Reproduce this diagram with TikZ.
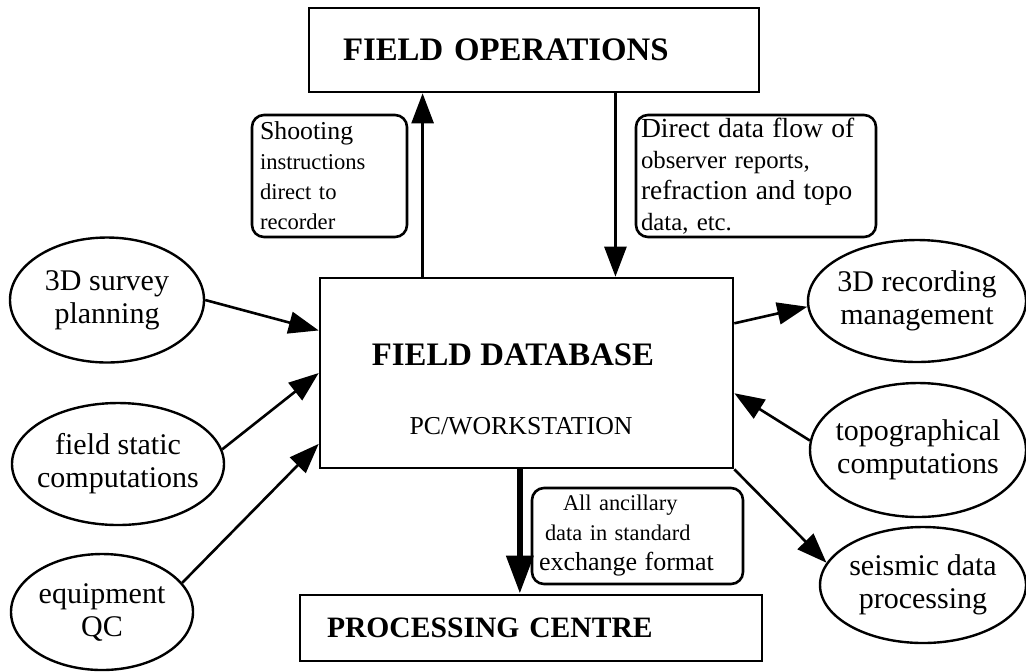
\documentclass[tikz,border=0pt]{standalone}
\usepackage{fontspec}
\setmainfont{Liberation Serif}
\usetikzlibrary{arrows.meta,shapes.geometric}

\begin{document}
\begin{tikzpicture}[x=0.5pt,y=-0.5pt,
  box/.style={draw, line width=1.3pt, inner sep=0pt},
  note/.style={draw, line width=1.3pt, rounded corners=6pt, align=left, inner ysep=0pt},
  ell/.style={draw, ellipse, line width=1.2pt, inner sep=0pt},
  elltext/.style={align=center, font=\fontsize{15}{16.5}\selectfont},
  title/.style={font=\fontsize{16.4}{18}\selectfont\bfseries},
  arr/.style={line width=1.3pt, -{Triangle[length=15pt,width=11pt]}},
  bigarr/.style={line width=3.3pt, -{Triangle[length=19pt,width=13pt]}}]
\useasboundingbox (0,0) rectangle (1026,671);

% main boxes
\node[box, title, minimum height=42pt, text width=191pt, inner xsep=17pt, align=left] (fo) at (534,50) {FIELD OPERATIONS};
\node[box, minimum width=206.5pt, minimum height=95pt] (db) at (526.5,373) {};
\node[title, anchor=base] (dbname) at (513,365) {FIELD DATABASE};
\node[anchor=base, font=\fontsize{12.9}{15}\selectfont] (dbsub) at (521,434) {PC/WORKSTATION};
\node[box, minimum height=33pt, text width=204pt, inner xsep=13.5pt, align=left, font=\fontsize{14.8}{16}\selectfont\bfseries] (pc) at (531,628) {PROCESSING CENTRE};

% notes
\node[note, text width=69.5pt, inner xsep=4pt, minimum height=61pt, font=\fontsize{11.3}{15}\selectfont] (shoot) at (329.5,176)
  {{\fontsize{12.9}{15}\selectfont Shooting}\\instructions\\direct to\\recorder};
\node[note, text width=115pt, inner xsep=2.5pt, minimum height=61pt, font=\fontsize{12.4}{15.5}\selectfont] (flow) at (756,176)
  {{\fontsize{13.8}{15.5}\selectfont Direct data flow of}\\observer reports,\\{\fontsize{13.7}{15.5}\selectfont refraction and topo}\\ data, etc.};
\node[note, text width=98.5pt, inner xsep=3.5pt, minimum height=48pt, font=\fontsize{11.2}{15}\selectfont] (anc) at (637.5,536)
  {\hspace*{12pt}All ancillary\\\hspace*{3pt}data in standard\\{\fontsize{13}{15}\selectfont exchange format}};

% ellipses
\node[ell, minimum width=97pt, minimum height=62.5pt, label={[elltext]center:3D survey\\planning}] (sp) at (107,300) {};
\node[ell, minimum width=106pt, minimum height=61pt, label={[elltext]center:field static\\computations}] (fs) at (118,464) {};
\node[ell, minimum width=91pt, minimum height=58pt, label={[elltext]center:equipment\\QC}] (eq) at (102,612) {};
\node[ell, minimum width=109pt, minimum height=61pt, label={[elltext]center:3D recording\\management}] (rm) at (917,301) {};
\node[ell, minimum width=108pt, minimum height=67pt, label={[elltext]center:topographical\\computations}] (tc) at (918,450) {};
\node[ell, minimum width=103pt, minimum height=58pt, label={[elltext]center:seismic data\\processing}] (sd) at (923,585) {};

% where the arrows meet the database box
\path (db.north west) -- (db.north east) coordinate[pos=0.25] (up) coordinate[pos=0.714] (dn);
\path (db.south west) -- (db.south east) coordinate[pos=0.484] (th);
\path (db.north west) -- (db.south west) coordinate[pos=0.279] (w1) coordinate[pos=0.5] (w2) coordinate[pos=0.868] (w3);
\path (db.north east) -- (db.south east) coordinate[pos=0.242] (e1) coordinate[pos=0.605] (e2);

\draw[arr] (up) -- (up |- fo.south);
\draw[arr] (dn |- fo.south) -- (dn);
\draw[bigarr] (th) -- (th |- pc.north);
\draw[arr] (sp.east) -- (w1);
\draw[arr] (fs.8) -- (w2);
\draw[arr] (eq.20) -- (w3);
\draw[arr] (e1) -- (rm.183);
\draw[arr] (tc.175) -- (e2);
\draw[arr] (db.south east) -- (sd.167);
\end{tikzpicture}
\end{document}
